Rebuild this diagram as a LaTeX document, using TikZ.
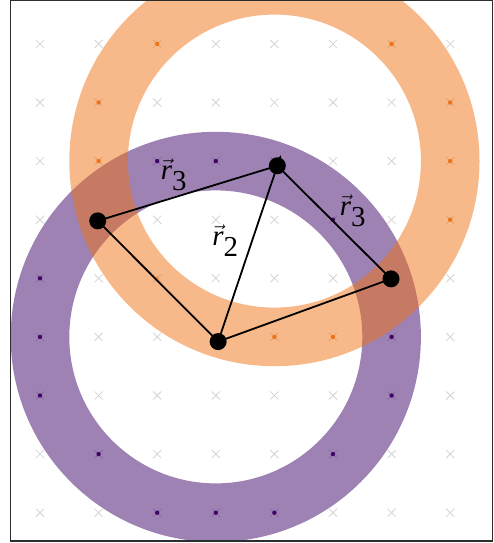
\documentclass[tikz,border=0pt]{standalone}
\usepackage{fontspec}
\setmainfont{Liberation Serif}
\usetikzlibrary{arrows.meta,calc}
\definecolor{ringorange}{RGB}{239,115,21}
\definecolor{ringpurple}{RGB}{61,5,105}
\definecolor{crossgray}{RGB}{212,212,212}
\definecolor{framegray}{RGB}{45,45,45}
\newcommand{\vlab}[1]{$\vec{\textit{r}}_{\textup{#1}}$}
\tikzset{
  gridmark/.style={draw=crossgray,line width=0.8bp},
  orangering/.style={fill=ringorange,fill opacity=0.5,even odd rule},
  purplering/.style={fill=ringpurple,fill opacity=0.5,even odd rule},
  odot/.style={fill=ringorange},
  pdot/.style={fill=ringpurple},
  seg/.style={draw=black,line width=1.8bp},
  bdot/.style={circle,fill=black,minimum size=17bp,inner sep=0pt},
  vlabel/.style={font=\fontsize{29}{34}\selectfont,inner sep=0pt},
  frameline/.style={draw=framegray,line width=1.4bp}
}
\begin{document}
\begin{tikzpicture}[x=58.6bp,y=58.6bp]
\useasboundingbox (-0.6826,-0.517) rectangle (7.747,8.749);
\begin{scope}
\clip (-0.5,-0.483) rectangle (7.718,8.741);
% grid crosses
\foreach \i in {0,...,7}{
  \foreach \j in {0,...,8}{
    \draw[gridmark] ($(\i,\j)+(-4bp,-4bp)$) -- ($(\i,\j)+(4bp,4bp)$);
    \draw[gridmark] ($(\i,\j)+(-4bp,4bp)$) -- ($(\i,\j)+(4bp,-4bp)$);
  }
}
% rings
\fill[purplering] (3,3) circle (3.5) (3,3) circle (2.5);
\fill[orangering] (4,6) circle (3.5) (4,6) circle (2.5);
% coloured grid points
\foreach \p in {(2,8),(6,8),(6,4),(1,6),(7,6),(4,3),(1,7),(1,5),(7,7),(7,5),(3,3),(5,3)}
  \fill[odot] \p circle (2.2bp);
\fill[odot,fill opacity=0.35] (2,4) circle (2bp);
\foreach \p in {(1,5),(5,5),(1,1),(5,1),(0,3),(6,3),(3,6),(3,0),(0,4),(0,2),(6,4),(6,2),(2,6),(4,6),(2,0),(4,0)}
  \fill[pdot] \p circle (2.2bp);
\end{scope}
% frame
\draw[frameline] (-0.5,-0.483) rectangle (7.718,8.741);
% points
\coordinate (p1) at (0.985,4.98);
\coordinate (p2) at (4.05,5.92);
\coordinate (p3) at (5.99,3.99);
\coordinate (p4) at (3.04,2.92);
\draw[seg] (p1) -- (p2);
\draw[seg] (p2) -- (p3);
\draw[seg] (p3) -- (p4);
\draw[seg] (p4) -- (p1);
\draw[seg,-{Stealth[length=7bp,width=6bp]}] (p4) -- ($(p4)!1.06!(p2)$);
\node[bdot] (d1) at (p1) {};
\node[bdot] (d2) at (p2) {};
\node[bdot] (d3) at (p3) {};
\node[bdot] (d4) at (p4) {};
% labels
\node[vlabel] (l1) at (2.287,5.763) {\vlab{3}};
\node[vlabel] (l2) at (3.166,4.645) {\vlab{2}};
\node[vlabel] (l3) at (5.341,5.148) {\vlab{3}};
\end{tikzpicture}
\end{document}
